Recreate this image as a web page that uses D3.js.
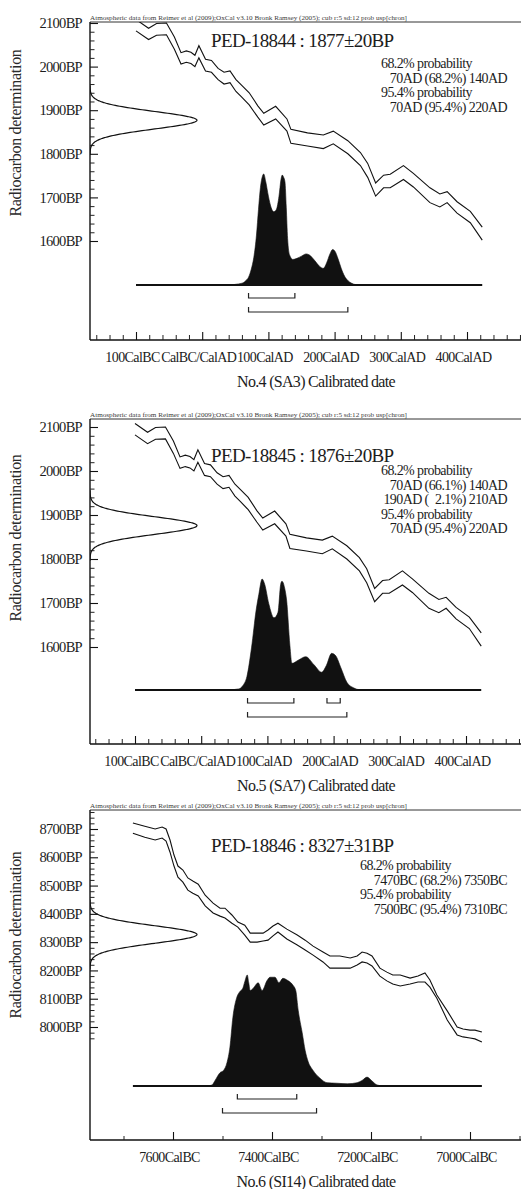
<!DOCTYPE html>
<html>
<head>
<meta charset="utf-8">
<script src="https://cdn.jsdelivr.net/npm/d3@7"></script>
<style>
  html, body { margin: 0; padding: 0; background: #fff; }
  svg text { font-family: "Liberation Serif", "Times New Roman", serif; fill: #1c1c1c; }
</style>
</head>
<body>
<svg id="chart" width="521" height="1189"></svg>
<script>
// ---------------------------------------------------------------
// Calibration data and results (OxCal v3.10 style plots)
// ---------------------------------------------------------------
const atmosphericNote = "Atmospheric data from Reimer et al (2009);OxCal v3.10 Bronk Ramsey (2005); cub r:5 sd:12 prob usp[chron]";

// IntCal09 1-sigma envelope, AD range (calendar year AD, BP)
const calYearsAD = [-100, -81, -69, -54, -42, -32, -24, -17, -11, -5, 5, 14, 24, 33, 42, 51, 59, 71, 84, 93,
  111, 128, 134, 159, 183, 198, 220, 239, 250, 262, 274, 284, 304, 319, 344, 359, 370, 385, 405, 423];
const calUpperAD = [2108, 2088, 2099, 2100, 2068, 2032, 2036, 2033, 2026, 2048, 2017, 2014, 1996, 1987, 1990, 1970, 1958, 1940, 1910, 1893,
  1909, 1880, 1856, 1848, 1843, 1852, 1830, 1803, 1778, 1733, 1751, 1753, 1773, 1755, 1722, 1708, 1713, 1690, 1668, 1632];
const calLowerAD = [2082, 2062, 2072, 2073, 2040, 2006, 2010, 2007, 2000, 2020, 1990, 1987, 1970, 1960, 1963, 1943, 1931, 1912, 1884, 1866,
  1880, 1852, 1824, 1818, 1812, 1823, 1800, 1773, 1746, 1703, 1722, 1722, 1741, 1724, 1688, 1678, 1688, 1664, 1642, 1602];

// IntCal09 1-sigma envelope, early Holocene range (calendar year BC, BP)
const calYearsBC = [7681, 7657, 7636, 7622, 7614, 7606, 7598, 7590, 7580, 7570, 7560, 7549, 7535, 7519, 7505, 7495, 7481, 7469, 7455, 7444,
  7430, 7418, 7408, 7398, 7388, 7370, 7349, 7333, 7317, 7297, 7283, 7263, 7242, 7228, 7218, 7208, 7198, 7182, 7168, 7156,
  7141, 7121, 7105, 7091, 7081, 7067, 7046, 7026, 7014, 7000, 6990, 6976];
const calUpperBC = [8721, 8710, 8700, 8707, 8700, 8661, 8608, 8569, 8555, 8527, 8516, 8505, 8466, 8438, 8420, 8420, 8396, 8371, 8360, 8332,
  8332, 8332, 8343, 8357, 8367, 8346, 8325, 8307, 8286, 8265, 8251, 8251, 8244, 8251, 8265, 8261, 8251, 8208, 8194, 8184,
  8184, 8173, 8180, 8191, 8166, 8113, 8057, 8000, 7993, 7989, 7989, 7982];
const calLowerBC = [8685, 8671, 8661, 8668, 8657, 8618, 8569, 8530, 8512, 8484, 8473, 8463, 8428, 8403, 8392, 8385, 8367, 8353, 8325, 8300,
  8300, 8304, 8307, 8322, 8336, 8311, 8290, 8272, 8254, 8230, 8208, 8208, 8208, 8219, 8230, 8226, 8216, 8180, 8163, 8152,
  8145, 8152, 8159, 8159, 8141, 8102, 8025, 7972, 7965, 7961, 7958, 7947];

// Samples
const sampleCodes = ["PED-18844", "PED-18845", "PED-18846"];
const sampleBP = [1877, 1876, 8327];
const sampleErr = [20, 20, 31];
const sampleNames = ["No.4 (SA3)", "No.5 (SA7)", "No.6 (SI14)"];

// Calibrated probability distributions (relative probability)
const probYears1 = [40, 55, 62, 66, 70, 74, 78, 82, 85, 88, 91, 93, 96, 100, 104, 108, 112, 116, 119, 121,
  123, 125, 127, 129, 132, 137, 143, 150, 157, 162, 170, 177, 183, 188, 193, 197, 201, 205, 210, 215, 220, 226, 235];
const probValues1 = [0, 0.01, 0.02, 0.04, 0.07, 0.14, 0.25, 0.45, 0.68, 0.88, 0.98, 1.0, 0.93, 0.8, 0.7, 0.66, 0.68, 0.8, 0.95, 0.99,
  0.97, 0.93, 0.7, 0.42, 0.27, 0.23, 0.24, 0.26, 0.28, 0.27, 0.22, 0.17, 0.15, 0.2, 0.28, 0.32, 0.3, 0.24, 0.15, 0.08, 0.04, 0.015, 0];

const probYears2 = [40, 57, 63, 69, 76, 83, 87, 92, 96, 102, 110, 116, 120, 122, 126, 129, 134, 137, 147, 158,
  170, 182, 189, 197, 203, 211, 220, 230, 240];
const probValues2 = [0, 0.01, 0.04, 0.12, 0.38, 0.72, 0.86, 1.0, 0.95, 0.78, 0.65, 0.7, 0.95, 0.98, 0.92, 0.81, 0.4, 0.24, 0.27, 0.3,
  0.23, 0.16, 0.22, 0.33, 0.31, 0.2, 0.07, 0.02, 0];

const probYears3 = [7530, 7521, 7515, 7505, 7498, 7491, 7485, 7479, 7471, 7465, 7459, 7455, 7450, 7447, 7444, 7438, 7428, 7420, 7410, 7404,
  7394, 7386, 7378, 7368, 7358, 7352, 7347, 7339, 7333, 7327, 7317, 7303, 7289, 7269, 7248, 7228, 7218, 7208, 7198, 7188, 7176, 7160];
const probValues3 = [0, 0.01, 0.05, 0.12, 0.14, 0.21, 0.35, 0.62, 0.8, 0.85, 0.88, 0.94, 1.0, 0.93, 0.86, 0.88, 0.93, 0.86, 0.95, 0.98,
  0.98, 0.93, 0.97, 0.95, 0.91, 0.86, 0.68, 0.48, 0.32, 0.22, 0.14, 0.07, 0.03, 0.025, 0.02, 0.03, 0.05, 0.08, 0.045, 0.01, 0, 0];

// Calibrated ranges [from, to, probability %]
const ranges68_1 = [[70, 140, 68.2]];
const ranges95_1 = [[70, 220, 95.4]];
const ranges68_2 = [[70, 140, 66.1], [190, 210, 2.1]];
const ranges95_2 = [[70, 220, 95.4]];
const ranges68_3 = [[7470, 7350, 68.2]];
const ranges95_3 = [[7500, 7310, 95.4]];

// Axis ticks and labels
const bpTicksAD = [1600, 1700, 1800, 1900, 2000, 2100];
const bpLabelsAD = ["1600BP", "1700BP", "1800BP", "1900BP", "2000BP", "2100BP"];
const bpTicksBC = [8000, 8100, 8200, 8300, 8400, 8500, 8600, 8700];
const bpLabelsBC = ["8000BP", "8100BP", "8200BP", "8300BP", "8400BP", "8500BP", "8600BP", "8700BP"];
const calTicksAD = [-100, 0, 100, 200, 300, 400];
const calLabelsAD = ["100CalBC", "CalBC/CalAD", "100CalAD", "200CalAD", "300CalAD", "400CalAD"];
const calTicksBC = [7600, 7400, 7200, 7000];
const calLabelsBC = ["7600CalBC", "7400CalBC", "7200CalBC", "7000CalBC"];
const calMinorBC = [7700, 7500, 7300, 7100, 6900];

// ---------------------------------------------------------------
// Panel layout
// ---------------------------------------------------------------
const W = 521;
const left = 90;
const peakH = 111;     // height of the tallest probability bin
const densW = 107;     // width of the measurement curve on the BP axis

const layouts = [
  { top: 22,  bottom: 340,  yA: 241,  yB: 23,  xA: 136, xB: 467, base: 285,  title: 40,  info: 63,  infoX: 381, yTitle: 133 },
  { top: 419, bottom: 744,  yA: 647,  yB: 427, xA: 135, xB: 466, base: 690,  title: 455, info: 470, infoX: 381, yTitle: 538 },
  { top: 810, bottom: 1140, yA: 1027, yB: 829, xA: 173, xB: 470, base: 1086, title: 845, info: 865, infoX: 360, yTitle: 935 }
];

const panels = [
  { era: "AD", calYears: calYearsAD, upper: calUpperAD, lower: calLowerAD, py: probYears1, pv: probValues1,
    r68: ranges68_1, r95: ranges95_1, yDom: [1600, 2100], xDom: [-100, 400],
    bpTicks: bpTicksAD, bpLabels: bpLabelsAD, bpMinor: [1600, 2100],
    calTicks: calTicksAD, calLabels: calLabelsAD },
  { era: "AD", calYears: calYearsAD, upper: calUpperAD, lower: calLowerAD, py: probYears2, pv: probValues2,
    r68: ranges68_2, r95: ranges95_2, yDom: [1600, 2100], xDom: [-100, 400],
    bpTicks: bpTicksAD, bpLabels: bpLabelsAD, bpMinor: [1600, 2100],
    calTicks: calTicksAD, calLabels: calLabelsAD },
  { era: "BC", calYears: calYearsBC, upper: calUpperBC, lower: calLowerBC, py: probYears3, pv: probValues3,
    r68: ranges68_3, r95: ranges95_3, yDom: [8000, 8700], xDom: [7600, 7000],
    bpTicks: bpTicksBC, bpLabels: bpLabelsBC, bpMinor: [7960, 8760],
    calTicks: calTicksBC, calLabels: calLabelsBC }
];

const svg = d3.select("#chart");

function fmtRange(r, era) {
  const pct = r[2].toFixed(1).padStart(4, "\u2002");
  return `${r[0]}${era} (${pct}%) ${r[1]}${era}`;
}

panels.forEach((p, i) => {
  const L = layouts[i];
  const g = svg.append("g");
  // BC years run as negative calendar years so the axis reads left to right
  const cal = p.era === "BC" ? (d => -d) : (d => d);
  const x = d3.scaleLinear().domain(p.xDom.map(cal)).range([L.xA, L.xB]);
  const y = d3.scaleLinear().domain(p.yDom).range([L.yA, L.yB]);
  const prob = d3.scaleLinear().domain([0, 1]).range([L.base, L.base - peakH]);
  const dens = d3.scaleLinear().domain([0, 1]).range([left, left + densW]);

  const clipId = "clip" + i;
  svg.append("clipPath").attr("id", clipId)
    .append("rect").attr("x", left).attr("y", L.top).attr("width", W - left).attr("height", L.bottom - L.top);

  // header note and top rule
  g.append("text")
    .attr("x", left).attr("y", L.top - 2.5)
    .attr("font-size", 7).attr("textLength", 317).attr("lengthAdjust", "spacingAndGlyphs")
    .style("fill", "#3a3a3a")
    .text(atmosphericNote);
  g.append("line").attr("x1", left).attr("x2", W).attr("y1", L.top).attr("y2", L.top)
    .attr("stroke", "#333").attr("stroke-width", 1);

  // frame axes
  g.append("line").attr("x1", left).attr("x2", left).attr("y1", L.top).attr("y2", L.bottom)
    .attr("stroke", "#111").attr("stroke-width", 1.4);
  g.append("line").attr("x1", left).attr("x2", W).attr("y1", L.bottom).attr("y2", L.bottom)
    .attr("stroke", "#111").attr("stroke-width", 1.4);

  // BP axis: minor ticks every 20 years, labelled majors every 100
  const bpMinorVals = d3.range(p.bpMinor[0], p.bpMinor[1] + 1, 20).filter(v => v % 100 !== 0);
  g.append("g").attr("transform", `translate(${left},0)`)
    .call(d3.axisLeft(y).tickValues(bpMinorVals).tickSize(-4.5).tickFormat(""))
    .call(a => a.select(".domain").remove())
    .call(a => a.selectAll("line").attr("stroke", "#222"));
  g.append("g").attr("transform", `translate(${left},0)`)
    .call(d3.axisLeft(y).tickValues(p.bpTicks).tickSize(-8).tickPadding(8)
      .tickFormat((d, k) => p.bpLabels[k]))
    .call(a => a.select(".domain").remove())
    .call(a => a.selectAll("line").attr("stroke", "#111").attr("stroke-width", 1.1))
    .attr("font-family", null).attr("font-size", null)
    .call(a => a.selectAll("text").attr("font-size", 14.5).attr("letter-spacing", "-0.7px"));

  // calendar axis
  let minorCal;
  if (p.era === "AD") {
    minorCal = d3.range(-160, 521, 20).filter(v => v % 100 !== 0);
  } else {
    minorCal = calMinorBC.map(cal);
  }
  const xMinorLen = p.era === "AD" ? 5 : 4;
  g.append("g").attr("transform", `translate(0,${L.bottom})`)
    .call(d3.axisBottom(x).tickValues(minorCal.filter(v => x(v) > left + 2 && x(v) < W)).tickSize(-xMinorLen).tickFormat(""))
    .call(a => a.select(".domain").remove())
    .call(a => a.selectAll("line").attr("stroke", "#222"));
  const majorCal = p.calTicks.map(cal);
  g.append("g").attr("transform", `translate(0,${L.bottom})`)
    .call(d3.axisBottom(x).tickValues(majorCal).tickSize(-8).tickPadding(12)
      .tickFormat((d, k) => p.calLabels[k]))
    .call(a => a.select(".domain").remove())
    .call(a => a.selectAll("line").attr("stroke", "#111").attr("stroke-width", 1.1))
    .attr("font-family", null).attr("font-size", null)
    .call(a => a.selectAll("text").attr("font-size", 14).attr("letter-spacing", "-0.6px").attr("dx", -4));

  // axis titles
  g.append("text")
    .attr("transform", `translate(15,${L.yTitle}) rotate(-90)`)
    .attr("text-anchor", "middle").attr("dy", "0.35em")
    .attr("font-size", 16).attr("letter-spacing", "-0.3px").style("fill", "#2a2a2a")
    .text("Radiocarbon determination");
  g.append("text")
    .attr("x", 316).attr("y", L.bottom + 41).attr("dy", "0.35em")
    .attr("text-anchor", "middle").attr("font-size", 16).attr("letter-spacing", "-0.7px")
    .text(`${sampleNames[i]} Calibrated date`);

  const plot = g.append("g").attr("clip-path", `url(#${clipId})`);

  // calibration curve envelope
  const band = p.calYears.map((yr, k) => ({ yr: cal(yr), hi: p.upper[k], lo: p.lower[k] }));
  plot.append("path").datum(band)
    .attr("d", d3.line().x(d => x(d.yr)).y(d => y(d.hi)))
    .attr("fill", "none").attr("stroke", "#111").attr("stroke-width", 1.1);
  plot.append("path").datum(band)
    .attr("d", d3.line().x(d => x(d.yr)).y(d => y(d.lo)))
    .attr("fill", "none").attr("stroke", "#111").attr("stroke-width", 1.1);

  // measured radiocarbon age on the BP axis
  const mu = sampleBP[i], sd = sampleErr[i];
  const gauss = d3.range(-4, 4.001, 0.05).map(z => ({ bp: mu + z * sd, f: Math.exp(-0.5 * z * z) }));
  plot.append("path").datum(gauss)
    .attr("d", d3.line().x(d => dens(d.f)).y(d => y(d.bp)).curve(d3.curveBasis))
    .attr("fill", "none").attr("stroke", "#111").attr("stroke-width", 1.2);

  // calibrated probability distribution
  const dist = p.py.map((yr, k) => ({ yr: cal(yr), v: p.pv[k] }));
  plot.append("path").datum(dist)
    .attr("d", d3.area().x(d => x(d.yr)).y0(L.base).y1(d => prob(d.v)).curve(d3.curveMonotoneX))
    .attr("fill", "#111").attr("stroke", "#111").attr("stroke-width", 0.6);
  const ends = d3.extent(p.calYears.map(cal));
  plot.append("line")
    .attr("x1", x(ends[0])).attr("x2", x(ends[1])).attr("y1", prob(0)).attr("y2", prob(0))
    .attr("stroke", "#111").attr("stroke-width", 2.2);

  // range brackets
  const bracket = (r, yy) => `M${x(cal(r[0]))},${yy - 5}V${yy}H${x(cal(r[1]))}V${yy - 5}`;
  p.r68.forEach(r => plot.append("path").attr("d", bracket(r, L.base + 13))
    .attr("fill", "none").attr("stroke", "#222").attr("stroke-width", 1.2));
  p.r95.forEach(r => plot.append("path").attr("d", bracket(r, L.base + 27))
    .attr("fill", "none").attr("stroke", "#222").attr("stroke-width", 1.2));

  // sample heading
  g.append("text")
    .attr("x", 211).attr("y", L.title).attr("dy", "0.35em")
    .attr("font-size", 19).attr("letter-spacing", "-0.6px")
    .text(`${sampleCodes[i]} : ${sampleBP[i]}\u00B1${sampleErr[i]}BP`);

  // range listing
  const lines = [{ t: "68.2% probability", head: true }]
    .concat(p.r68.map(r => ({ t: fmtRange(r, p.era) })))
    .concat([{ t: "95.4% probability", head: true }])
    .concat(p.r95.map(r => ({ t: fmtRange(r, p.era) })));
  lines.forEach((ln, k) => {
    g.append("text")
      .attr("x", ln.head ? L.infoX : 507)
      .attr("text-anchor", ln.head ? "start" : "end")
      .attr("y", L.info + k * 14.6).attr("dy", "0.35em")
      .attr("font-size", 14).attr("letter-spacing", "-0.6px")
      .attr("xml:space", "preserve")
      .text(ln.t);
  });
});
</script>
</body>
</html>
